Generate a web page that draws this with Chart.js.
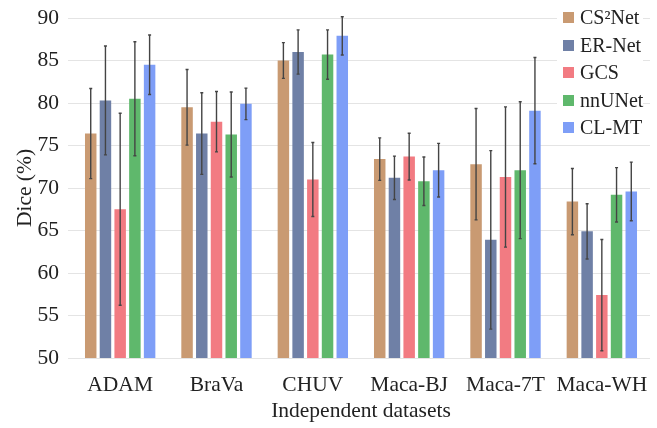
<!DOCTYPE html>
<html>
<head>
<meta charset="utf-8">
<script src="https://cdn.jsdelivr.net/npm/chart.js@4/dist/chart.umd.min.js"></script>
<style>
  html, body { margin: 0; padding: 0; background: #fff; }
  #wrap { position: relative; width: 657px; height: 428px; }
  #legend {
    position: absolute; left: 557px; top: 4px; width: 86px;
    background: #fff; font-family: "Liberation Serif", "DejaVu Serif", serif; font-size: 20px; color: #222;
  }
  #legend div { height: 27.5px; line-height: 27.5px; white-space: nowrap; }
  #legend span { display: inline-block; width: 11px; height: 11px; margin: 0 6px 0 6px; vertical-align: 1px; }
</style>
</head>
<body>
<div id="wrap">
  <canvas id="diceChart" width="657" height="428"></canvas>
  <div id="legend"></div>
</div>
<script>
const datasetsNames = ["ADAM", "BraVa", "CHUV", "Maca-BJ", "Maca-7T", "Maca-WH"];
const methods = ["CS\u00B2Net", "ER-Net", "GCS", "nnUNet", "CL-MT"];
const methodColors = ["#c99a72", "#6f80a6", "#f27b82", "#5fb86c", "#7e9ef7"];

// mean Dice per method (order follows datasetsNames)
const cs2netMean = [76.4, 79.5, 85.0, 73.4, 72.8, 68.4];
const ernetMean  = [80.3, 76.4, 86.0, 71.2, 63.9, 64.9];
const gcsMean    = [67.5, 77.8, 71.0, 73.7, 71.3, 57.4];
const nnunetMean = [80.5, 76.3, 85.7, 70.8, 72.1, 69.2];
const clmtMean   = [84.5, 79.9, 87.9, 72.1, 79.1, 69.6];

// standard deviation per method
const cs2netStd = [5.3, 4.45, 2.1, 2.5, 6.55, 3.9];
const ernetStd  = [6.4, 4.8, 2.6, 2.55, 10.5, 3.25];
const gcsStd    = [11.3, 3.55, 4.35, 2.75, 8.25, 6.55];
const nnunetStd = [6.7, 5.0, 2.9, 2.85, 8.05, 3.2];
const clmtStd   = [3.5, 1.85, 2.25, 3.15, 6.25, 3.45];

const yTicks = [50, 55, 60, 65, 70, 75, 80, 85, 90];

const means = [cs2netMean, ernetMean, gcsMean, nnunetMean, clmtMean];
const stds = [cs2netStd, ernetStd, gcsStd, nnunetStd, clmtStd];

const serif = "Liberation Serif, DejaVu Serif, serif";

// error bars drawn on top of bars using the chart's y scale
const errorBars = {
  id: "errorBars",
  afterDatasetsDraw(chart) {
    const ctx = chart.ctx;
    const y = chart.scales.y;
    ctx.save();
    ctx.strokeStyle = "#444";
    ctx.lineWidth = 1.4;
    chart.data.datasets.forEach((ds, di) => {
      const meta = chart.getDatasetMeta(di);
      meta.data.forEach((bar, i) => {
        const m = ds.data[i], s = stds[di][i];
        const top = y.getPixelForValue(m + s);
        const bot = y.getPixelForValue(m - s);
        ctx.beginPath();
        ctx.moveTo(bar.x, top);
        ctx.lineTo(bar.x, bot);
        ctx.moveTo(bar.x - 1.5, top);
        ctx.lineTo(bar.x + 1.5, top);
        ctx.moveTo(bar.x - 1.5, bot);
        ctx.lineTo(bar.x + 1.5, bot);
        ctx.stroke();
      });
    });
    ctx.restore();
  }
};

let legendBox = document.getElementById("legend");
methods.forEach((name, i) => {
  let row = document.createElement("div");
  row.innerHTML = '<span style="background:' + methodColors[i] + '"></span>' + name;
  legendBox.appendChild(row);
});

let ctx = document.getElementById("diceChart").getContext("2d");
new Chart(ctx, {
  type: "bar",
  data: {
    labels: datasetsNames,
    datasets: methods.map((name, i) => ({
      label: name,
      data: means[i],
      backgroundColor: methodColors[i],
      categoryPercentage: 0.764,
      barPercentage: 0.78,
    })),
  },
  options: {
    responsive: false,
    animation: false,
    layout: { padding: { top: 18, right: 7, left: 8, bottom: 0 } },
    plugins: {
      legend: { display: false },
      tooltip: { enabled: false },
    },
    scales: {
      x: {
        afterFit: (scale) => { scale.height = 70; },
        grid: { display: false },
        border: { display: false },
        ticks: { color: "#222", font: { family: serif, size: 21.5 }, padding: 6, maxRotation: 0, minRotation: 0, autoSkip: false },
        title: { display: true, text: "Independent datasets", color: "#222", font: { family: serif, size: 21.5 }, padding: { top: 4 } },
      },
      y: {
        min: 50,
        max: 90,
        afterFit: (scale) => { scale.width = 64; scale.paddingTop = 0; scale.paddingBottom = 0; },
        afterBuildTicks: (scale) => { scale.ticks = yTicks.map(v => ({ value: v })); },
        grid: { color: "#e4e4e4", lineWidth: 1, tickLength: 4 },
        border: { display: false },
        ticks: { color: "#222", font: { family: serif, size: 21.5 }, padding: 9 },
        title: { display: true, text: "Dice (%)", color: "#222", font: { family: serif, size: 21.5 }, padding: { bottom: 0 } },
      },
    },
  },
  plugins: [errorBars],
});
</script>
</body>
</html>
